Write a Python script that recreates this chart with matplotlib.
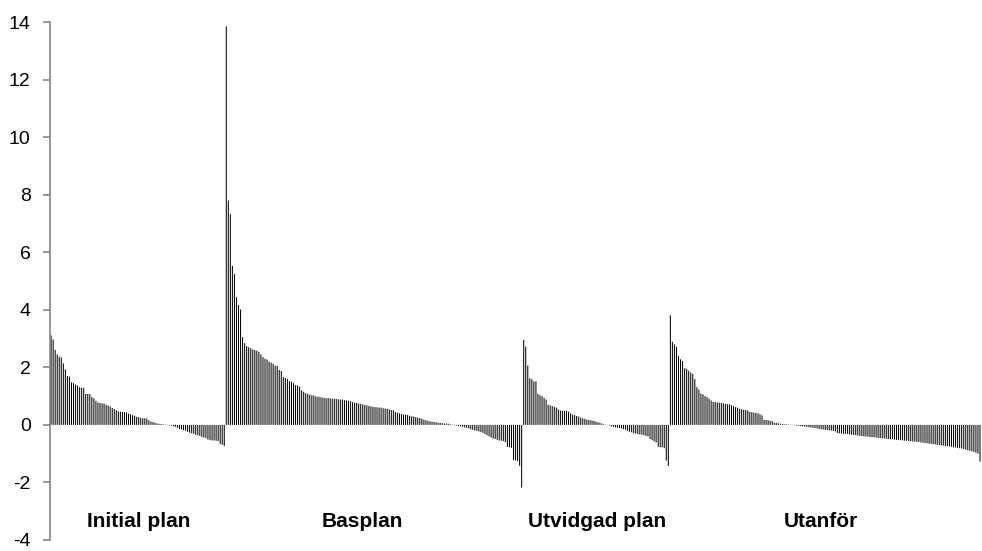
import numpy as np
import matplotlib.pyplot as plt

plt.rcParams['font.family'] = ['Liberation Sans', 'DejaVu Sans']
plt.rcParams['axes.unicode_minus'] = False

# Values, sorted within each group
initial_plan = [3.11, 2.97, 2.60, 2.45, 2.37, 2.34, 2.14, 1.93, 1.70, 1.68,
                1.48, 1.45, 1.40, 1.37, 1.31, 1.29, 1.29, 1.08, 1.08, 1.07,
                0.97, 0.92, 0.84, 0.78, 0.76, 0.75, 0.74, 0.70, 0.67, 0.64,
                0.59, 0.55, 0.51, 0.47, 0.46, 0.45, 0.44, 0.43, 0.39, 0.37,
                0.34, 0.32, 0.28, 0.27, 0.24, 0.23, 0.23, 0.22, 0.16,
                0.12, 0.10, 0.08, 0.05, 0.04, 0.03, 0.02, 0.01,
                -0.01, -0.02, -0.03, -0.05, -0.07, -0.10, -0.14, -0.16, -0.18, -0.20,
                -0.24, -0.27, -0.29, -0.31, -0.35, -0.36, -0.38, -0.42, -0.44, -0.46,
                -0.51, -0.53, -0.54, -0.54, -0.55, -0.56, -0.66, -0.69, -0.74]

basplan = [13.85, 7.80, 7.32, 5.53, 5.24, 4.44, 4.17, 4.01, 3.05, 2.84,
           2.74, 2.70, 2.66, 2.62, 2.60, 2.58, 2.54, 2.45, 2.36, 2.30,
           2.27, 2.20, 2.16, 2.12, 2.06, 2.05, 1.91, 1.87, 1.66, 1.63,
           1.60, 1.52, 1.50, 1.45, 1.38, 1.37, 1.33, 1.20, 1.15, 1.10,
           1.08, 1.05, 1.03, 1.02, 0.99, 0.98, 0.97, 0.95, 0.94, 0.93,
           0.93, 0.92, 0.91, 0.91, 0.90, 0.89, 0.88, 0.88, 0.86, 0.85,
           0.84, 0.82, 0.79, 0.77, 0.76, 0.74, 0.73, 0.71, 0.69, 0.68,
           0.66, 0.64, 0.63, 0.62, 0.61, 0.60, 0.60, 0.58, 0.57, 0.56,
           0.54, 0.52, 0.51, 0.45, 0.42, 0.40, 0.38, 0.36, 0.35, 0.34,
           0.32, 0.30, 0.29, 0.27, 0.25, 0.24, 0.21, 0.18, 0.16, 0.14,
           0.12, 0.11, 0.10, 0.09, 0.08, 0.07, 0.06, 0.05, 0.05, 0.04,
           0.02, 0.01, -0.01, -0.02, -0.04, -0.05, -0.07, -0.09, -0.10, -0.12,
           -0.15, -0.17, -0.19, -0.21, -0.23, -0.25, -0.28, -0.32, -0.36, -0.40,
           -0.44, -0.47, -0.49, -0.52, -0.54, -0.55, -0.56, -0.60, -0.77, -0.78,
           -0.80, -1.22, -1.24, -1.26, -1.42, -2.18]

utvidgad_plan = [2.95, 2.72, 2.06, 1.62, 1.59, 1.51, 1.51, 1.08, 1.03, 1.00,
                 0.94, 0.88, 0.70, 0.68, 0.65, 0.63, 0.60, 0.54, 0.50, 0.49,
                 0.49, 0.48, 0.46, 0.40, 0.36, 0.34, 0.31, 0.29, 0.25, 0.23,
                 0.21, 0.18, 0.17, 0.16, 0.14, 0.13, 0.10, 0.08, 0.06, 0.03,
                 0.01, -0.01, -0.02, -0.05, -0.07, -0.09, -0.10, -0.11, -0.13, -0.15,
                 -0.17, -0.21, -0.24, -0.26, -0.29, -0.30, -0.32, -0.33, -0.34, -0.36,
                 -0.38, -0.40, -0.49, -0.53, -0.57, -0.61, -0.76, -0.78, -0.78, -0.81,
                 -1.24, -1.43]

utanfor = [3.81, 2.89, 2.80, 2.72, 2.40, 2.28, 2.22, 1.97, 1.95, 1.88,
           1.82, 1.77, 1.59, 1.31, 1.23, 1.09, 1.06, 1.00, 0.97, 0.91,
           0.85, 0.80, 0.79, 0.78, 0.77, 0.76, 0.75, 0.73, 0.72, 0.72,
           0.68, 0.65, 0.62, 0.60, 0.56, 0.54, 0.53, 0.52, 0.50, 0.45,
           0.44, 0.42, 0.42, 0.40, 0.37, 0.33, 0.18, 0.17, 0.16, 0.14,
           0.13, 0.08, 0.07, 0.05, 0.04, 0.03, 0.02, 0.02, 0.01, 0.01,
           -0.01, -0.01, -0.02, -0.03, -0.04, -0.05, -0.06, -0.07, -0.08, -0.09,
           -0.10, -0.11, -0.12, -0.14, -0.15, -0.16, -0.17, -0.18, -0.19, -0.20,
           -0.21, -0.23, -0.28, -0.29, -0.30, -0.31, -0.31, -0.32, -0.33, -0.34,
           -0.35, -0.36, -0.37, -0.38, -0.39, -0.40, -0.40, -0.41, -0.42, -0.43,
           -0.43, -0.44, -0.45, -0.46, -0.47, -0.47, -0.48, -0.49, -0.50, -0.50,
           -0.51, -0.52, -0.52, -0.53, -0.54, -0.55, -0.55, -0.56, -0.57, -0.58,
           -0.58, -0.59, -0.60, -0.61, -0.62, -0.63, -0.64, -0.65, -0.66, -0.67,
           -0.68, -0.69, -0.70, -0.71, -0.72, -0.73, -0.74, -0.75, -0.76, -0.78,
           -0.79, -0.80, -0.81, -0.82, -0.84, -0.86, -0.88, -0.90, -0.92, -0.94,
           -0.97, -1.00, -1.28]

group_names = ['Initial plan', 'Basplan', 'Utvidgad plan', 'Utanför']
groups = [initial_plan, basplan, utvidgad_plan, utanfor]
# label positions in bar-index units
label_pos = [43, 153, 268, 378]

values = np.concatenate(groups)
x = np.arange(len(values))

fig = plt.figure(figsize=(9.82, 5.51), dpi=100)
ax = fig.add_axes([0.051, 0.02, 0.948, 0.94])

ax.bar(x, values, width=0.5, color='black', linewidth=0, snap=False)

ax.set_xlim(-0.5, len(values) - 0.5)
ax.set_ylim(-4, 14)
ax.set_yticks(range(-4, 15, 2))
ax.set_xticks([])

for s in ['top', 'right', 'bottom']:
    ax.spines[s].set_visible(False)
ax.spines['left'].set_color('#868686')
ax.spines['left'].set_linewidth(1.2)
ax.tick_params(axis='y', colors='#868686', labelcolor='black',
               length=5, width=1.2, labelsize=14, pad=9)

for name, pos in zip(group_names, label_pos):
    ax.text(pos, -3.35, name, ha='center', va='center',
            fontsize=15, fontweight='bold')

plt.savefig('out.png', dpi=100)
